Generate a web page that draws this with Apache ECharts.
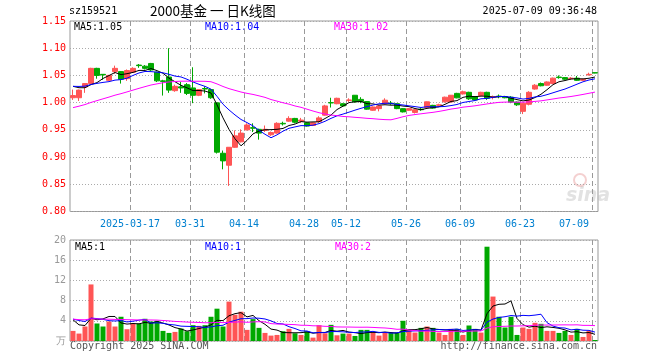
<!DOCTYPE html>
<html>
<head>
<meta charset="utf-8">
<script src="https://cdn.jsdelivr.net/npm/echarts@6/dist/echarts.min.js"></script>
<style>html,body{margin:0;padding:0;background:#fff;}#c{width:660px;height:360px;}</style>
</head>
<body>
<div id="c"></div>
<script>
const dates = [
'2025-03-03','2025-03-04','2025-03-05','2025-03-06','2025-03-07','2025-03-10','2025-03-11','2025-03-12','2025-03-13','2025-03-14',
'2025-03-17','2025-03-18','2025-03-19','2025-03-20','2025-03-21','2025-03-24','2025-03-25','2025-03-26','2025-03-27','2025-03-28',
'2025-03-31','2025-04-01','2025-04-02','2025-04-03','2025-04-07','2025-04-08','2025-04-09','2025-04-10','2025-04-11','2025-04-14',
'2025-04-15','2025-04-16','2025-04-17','2025-04-18','2025-04-21','2025-04-22','2025-04-23','2025-04-24','2025-04-25','2025-04-28',
'2025-04-29','2025-04-30','2025-05-06','2025-05-07','2025-05-08','2025-05-09','2025-05-12','2025-05-13','2025-05-14','2025-05-15',
'2025-05-16','2025-05-19','2025-05-20','2025-05-21','2025-05-22','2025-05-23','2025-05-26','2025-05-27','2025-05-28','2025-05-29',
'2025-05-30','2025-06-03','2025-06-04','2025-06-05','2025-06-06','2025-06-09','2025-06-10','2025-06-11','2025-06-12','2025-06-13',
'2025-06-16','2025-06-17','2025-06-18','2025-06-19','2025-06-20','2025-06-23','2025-06-24','2025-06-25','2025-06-26','2025-06-27',
'2025-06-30','2025-07-01','2025-07-02','2025-07-03','2025-07-04','2025-07-07','2025-07-08','2025-07-09'
];
const opens = [
1.009,1.009,1.029,1.035,1.063, 1.052,1.041,1.057,1.057,1.044,
1.056,1.069,1.067,1.072,1.056, 1.040,1.047,1.022,1.029,1.033,
1.027,1.0135,1.026,1.024,0.9996, 0.907,0.885,0.918,0.928,0.950,
0.954,0.951,0.949,0.941,0.944, 0.962,0.966,0.971,0.966,0.963,
0.958,0.965,0.977,1.000,0.998, 0.998,1.004,1.0136,1.006,1.002,
0.986,0.989,0.998,0.999,0.998, 0.989,0.986,0.982,0.988,0.991,
0.995,0.995,1.0015,1.0015,1.017, 1.016,1.019,1.011,1.013,1.019,
1.010,1.012,1.011,1.010,1.001, 0.984,0.997,1.025,1.035,1.032,
1.035,1.047,1.046,1.044,1.045, 1.041,1.051,1.055
];
const closes = [
1.013,1.023,1.035,1.063,1.050, 1.051,1.050,1.063,1.043,1.059,
1.063,1.068,1.063,1.060,1.040, 1.039,1.023,1.030,1.027,1.017,
1.0135,1.024,1.025,1.009,0.909, 0.893,0.918,0.939,0.944,0.959,
0.953,0.944,0.951,0.945,0.962, 0.961,0.971,0.964,0.968,0.957,
0.963,0.972,0.994,0.9995,1.008, 0.994,1.005,1.0015,1.002,0.988,
0.992,0.994,1.0045,0.998,0.989, 0.983,0.989,0.987,0.987,1.0015,
0.990,0.996,1.010,1.0136,1.0088, 1.020,1.007,1.005,1.019,1.008,
1.011,1.011,1.009,1.001,0.996, 0.999,1.019,1.032,1.031,1.038,
1.045,1.046,1.043,1.045,1.041, 1.043,1.052,1.0545
];
const lows = [
1.005,1.003,1.018,1.034,1.044, 1.042,1.040,1.053,1.035,1.040,
1.055,1.064,1.061,1.058,1.038, 1.013,1.018,1.020,1.018,1.014,
0.999,1.012,1.017,1.007,0.9065, 0.8775,0.847,0.917,0.927,0.949,
0.946,0.932,0.946,0.939,0.943, 0.958,0.965,0.962,0.963,0.956,
0.957,0.963,0.976,0.991,0.997, 0.993,1.001,1.000,0.999,0.987,
0.985,0.984,0.997,0.996,0.988, 0.982,0.985,0.980,0.985,0.990,
0.989,0.993,1.000,1.000,1.008, 1.015,1.005,1.004,1.012,1.005,
1.006,1.008,1.008,0.999,0.994, 0.979,0.995,1.024,1.030,1.031,
1.034,1.044,1.042,1.042,1.040, 1.040,1.050,1.054
];
const highs = [
1.024,1.024,1.036,1.064,1.064, 1.052,1.051,1.068,1.058,1.061,
1.065,1.071,1.069,1.073,1.057, 1.042,1.100,1.033,1.038,1.036,
1.065,1.025,1.030,1.025,1.000, 0.912,0.918,0.949,0.951,0.962,
0.962,0.952,0.958,0.947,0.964, 0.965,0.975,0.972,0.972,0.964,
0.964,0.975,0.996,1.009,1.009, 0.999,1.008,1.014,1.010,1.003,
0.993,0.995,1.008,1.003,0.999, 0.990,0.990,0.988,0.990,1.002,
0.996,0.998,1.011,1.014,1.018, 1.022,1.020,1.012,1.020,1.020,
1.013,1.015,1.012,1.012,1.002, 1.000,1.021,1.034,1.037,1.039,
1.046,1.050,1.047,1.047,1.049, 1.044,1.055,1.055
];
const volumes = [
2.0,1.47,2.87,11.2,3.47, 2.87,3.87,2.87,4.8,2.33,
3.47,3.47,4.4,3.87,4.0, 2.0,1.6,1.8,2.47,1.93,
3.13,3.0,3.13,4.8,6.4, 2.87,7.8,5.2,5.8,2.2,
4.33,2.6,1.6,1.07,1.2, 1.93,2.4,1.53,1.2,1.93,
0.67,3.13,1.53,3.2,1.13, 1.47,1.47,1.0,2.2,2.2,
1.73,1.07,1.67,1.67,1.67, 4.0,2.2,1.67,2.6,2.87,
2.6,1.67,1.2,2.4,2.4, 1.2,3.07,2.4,1.67,18.67,
8.8,4.8,2.67,4.8,1.2, 2.67,2.4,3.6,3.4,2.0,
2.0,1.6,2.0,1.2,2.4, 0.8,2.0,0.2
];
// closes / volumes before the visible window (estimated, needed for the moving averages)
const priorCloses = [0.942,0.945,0.948,0.950,0.952,0.955,0.957,0.960,0.962,0.965,0.967,0.970,0.972,0.975,0.978,0.980,
1.005,1.010,1.015,1.017, 1.025,1.030,1.032,1.030,1.033, 1.036,1.035,1.034,1.032];
const priorVolumes = [4.5,3.8,5.2,4.0,4.6,3.9,4.4,5.0,3.6,4.2,4.8,4.1,3.9,4.7,4.3,4.0,4.9,4.2,4.1,4.4,
4.2,4.8,4.5,4.4,4.4, 6.5,3.5,4.0,5.0];
const xLabelDates = ['2025-03-17','2025-03-31','2025-04-14','2025-04-28','2025-05-12','2025-05-26','2025-06-09','2025-06-23','2025-07-09'];
const priceLegend = ['MA5:1.05','MA10:1.04','MA30:1.02'];
const volLegend = ['MA5:1','MA10:1','MA30:2'];
const headerTexts = ['sz159521','2000基金 一 日K线图','2025-07-09 09:36:48'];
const footerTexts = ['Copyright 2025 SINA.COM','http://finance.sina.com.cn'];

function movingAvg(vals, prior, n) {
  const all = prior.concat(vals);
  return vals.map(function (_, i) {
    const end = prior.length + i;
    let s = 0;
    for (let k = end - n + 1; k <= end; k++) s += all[k];
    return +(s / n).toFixed(4);
  });
}

const UP = '#ff5555', DOWN = '#00a800';
const MONO = '"DejaVu Sans Mono", monospace';
const candleData = dates.map((d, i) => [opens[i], closes[i], lows[i], highs[i]]);
const volData = volumes.map((v, i) => ({ value: v, itemStyle: { color: closes[i] >= opens[i] ? UP : DOWN } }));
const showDate = (idx, val) => xLabelDates.indexOf(val) >= 0;

const chart = echarts.init(document.getElementById('c'), null, { renderer: 'canvas' });

function xAxis(gridIndex, showLabel) {
  return {
    type: 'category', gridIndex: gridIndex, data: dates, boundaryGap: true,
    axisLine: { show: false }, axisTick: { show: false },
    axisLabel: {
      show: showLabel, interval: showDate, color: '#0080d0', fontFamily: MONO, fontSize: 10, margin: 8,
      padding: [0, 6, 0, 0], alignMaxLabel: 'right',
      formatter: v => v === xLabelDates[0] ? v : v.slice(5)
    },
    splitLine: { show: false }
  };
}
function lineSeries(data, color, xi, yi) {
  return { type: 'line', data: data, xAxisIndex: xi, yAxisIndex: yi, showSymbol: false, symbol: 'none',
    lineStyle: { color: color, width: 1 }, itemStyle: { color: color }, silent: true, z: 5 };
}
function txt(text, x, y, color, font, align) {
  return { type: 'text', x: x, y: y, silent: true,
    style: { text: text, fill: color, font: font, align: align || 'left', textAlign: align || 'left',
      verticalAlign: 'middle', textVerticalAlign: 'middle' } };
}

const option = {
  animation: false,
  backgroundColor: '#ffffff',
  grid: [
    { left: 70, top: 21, width: 528, height: 190.5, show: true, borderColor: '#999999', borderWidth: 1, backgroundColor: 'transparent', outerBoundsMode: 'none' },
    { left: 70, top: 240, width: 528, height: 101, show: true, borderColor: '#999999', borderWidth: 1, backgroundColor: 'transparent', outerBoundsMode: 'none' }
  ],
  xAxis: [xAxis(0, true), xAxis(1, false)],
  yAxis: [
    { type: 'value', gridIndex: 0, min: 0.80, max: 1.15, interval: 0.05, scale: true,
      axisLine: { show: false }, axisTick: { show: false },
      axisLabel: { color: '#ff0000', fontFamily: MONO, fontSize: 10, margin: 4, formatter: v => v.toFixed(2) },
      splitLine: { show: true, lineStyle: { color: '#aaaaaa', type: [1, 2], width: 1 } } },
    { type: 'value', gridIndex: 1, min: 0, max: 20, interval: 4,
      axisLine: { show: false }, axisTick: { show: false },
      axisLabel: { color: '#999999', fontFamily: MONO, fontSize: 10, margin: 4, formatter: v => v === 0 ? '万' : String(v) },
      splitLine: { show: true, lineStyle: { color: '#aaaaaa', type: [1, 2], width: 1 } } }
  ],
  series: [
    { type: 'candlestick', data: candleData, xAxisIndex: 0, yAxisIndex: 0, barWidth: 5, silent: true, z: 3,
      itemStyle: { color: UP, color0: DOWN, borderColor: UP, borderColor0: DOWN, borderWidth: 1 } },
    lineSeries(movingAvg(closes, priorCloses, 5), '#000000', 0, 0),
    lineSeries(movingAvg(closes, priorCloses, 10), '#0000ff', 0, 0),
    lineSeries(movingAvg(closes, priorCloses, 30), '#ff00ff', 0, 0),
    { type: 'bar', data: volData, xAxisIndex: 1, yAxisIndex: 1, barWidth: 5, silent: true, z: 3 },
    lineSeries(movingAvg(volumes, priorVolumes, 5), '#000000', 1, 1),
    lineSeries(movingAvg(volumes, priorVolumes, 10), '#0000ff', 1, 1),
    lineSeries(movingAvg(volumes, priorVolumes, 30), '#ff00ff', 1, 1)
  ],
  graphic: [
    txt(headerTexts[0], 69, 11, '#000', '10px ' + MONO),
    txt(headerTexts[1], 150, 11, '#000', '13.5px "Noto Sans CJK SC"'),
    txt(headerTexts[2], 597, 11, '#000', '10px ' + MONO, 'right'),
    txt(priceLegend[0], 74, 27, '#000000', '10px ' + MONO),
    txt(priceLegend[1], 205, 27, '#0000ff', '10px ' + MONO),
    txt(priceLegend[2], 334, 27, '#ff00ff', '10px ' + MONO),
    txt(volLegend[0], 75, 247, '#000000', '10px ' + MONO),
    txt(volLegend[1], 205, 247, '#0000ff', '10px ' + MONO),
    txt(volLegend[2], 335, 247, '#ff00ff', '10px ' + MONO),
    txt(footerTexts[0], 70, 346, '#555555', '10px ' + MONO),
    txt(footerTexts[1], 597, 346, '#555555', '10px ' + MONO, 'right'),
    txt('sina', 566, 196, 'rgba(190,190,190,0.45)', 'italic bold 19px "DejaVu Sans"'),
    { type: 'circle', shape: { cx: 580, cy: 180, r: 6 }, silent: true, style: { fill: 'none', stroke: 'rgba(230,150,150,0.45)', lineWidth: 2 } }
  ]
};
chart.setOption(option);

// vertical dashed date lines at the start of each labelled day's band, positioned through the category axes
const extra = [];
[0, 1].forEach(function (g) {
  const rect = chart.getModel().getComponent('grid', g).coordinateSystem.getRect();
  xLabelDates.forEach(function (d) {
    const idx = dates.indexOf(d);
    const c0 = chart.convertToPixel({ xAxisIndex: g }, idx);
    const c1 = chart.convertToPixel({ xAxisIndex: g }, idx + 1);
    const x = Math.round(c0 - (c1 - c0) / 2) + 0.5;
    extra.push({ type: 'line', silent: true, z: 1,
      shape: { x1: x, y1: rect.y, x2: x, y2: rect.y + rect.height },
      style: { stroke: '#999999', lineWidth: 1, lineDash: [5, 3] } });
  });
});
chart.setOption({ graphic: option.graphic.concat(extra) });
</script>
</body>
</html>
